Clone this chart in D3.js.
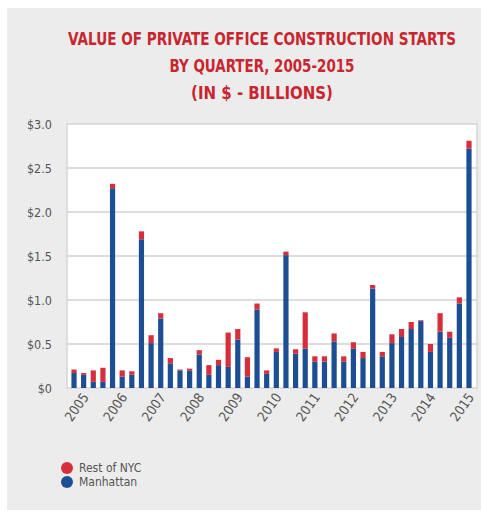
<!DOCTYPE html>
<html>
<head>
<meta charset="utf-8">
<script src="https://cdn.jsdelivr.net/npm/d3@7"></script>
<style>
  body { margin: 0; background: #fff; }
  svg text { font-family: "DejaVu Sans Condensed", "Roboto", sans-serif; }
</style>
</head>
<body>
<div id="chart"></div>
<script>
// Data: quarterly values, 2005 Q1 - 2015 Q2, $ billions
const quarters = d3.range(42).map(i => `${2005 + Math.floor(i / 4)} Q${(i % 4) + 1}`);
const manhattan = [0.17, 0.15, 0.07, 0.07, 2.27, 0.13, 0.15, 1.69, 0.51, 0.79,
                   0.28, 0.20, 0.20, 0.38, 0.15, 0.26, 0.24, 0.55, 0.13, 0.89,
                   0.16, 0.41, 1.51, 0.39, 0.45, 0.30, 0.30, 0.53, 0.30, 0.45,
                   0.34, 1.13, 0.36, 0.51, 0.58, 0.67, 0.76, 0.41, 0.64, 0.57,
                   0.96, 2.72];
const restOfNYC = [0.04, 0.02, 0.13, 0.16, 0.05, 0.07, 0.04, 0.09, 0.09, 0.06,
                   0.06, 0.01, 0.02, 0.05, 0.11, 0.06, 0.39, 0.12, 0.22, 0.07,
                   0.04, 0.04, 0.04, 0.05, 0.41, 0.06, 0.06, 0.09, 0.06, 0.07,
                   0.07, 0.04, 0.05, 0.10, 0.09, 0.08, 0.01, 0.09, 0.21, 0.07,
                   0.07, 0.09];
const yearLabels = ["2005", "2006", "2007", "2008", "2009", "2010", "2011", "2012", "2013", "2014", "2015"];
const yTicks = [0, 0.5, 1.0, 1.5, 2.0, 2.5, 3.0];
const seriesNames = ["Rest of NYC", "Manhattan"];
const titleLines = ["VALUE OF PRIVATE OFFICE CONSTRUCTION STARTS", "BY QUARTER, 2005-2015", "(IN $ - BILLIONS)"];

const width = 483, height = 514;
const colors = { "Manhattan": "#1d4e93", "Rest of NYC": "#d62f3b" };

const svg = d3.select("#chart").append("svg")
    .attr("width", width)
    .attr("height", height);

// gray panel
svg.append("rect")
    .attr("x", 7).attr("y", 8)
    .attr("width", width - 9).attr("height", 502)
    .attr("fill", "#ececec");

// Title - condensed by squeezing each line to the reference width
const titleWidths = [388, 185, 142];
svg.selectAll(".title")
    .data(titleLines)
    .enter().append("g")
    .attr("class", "title")
    .append("text")
    .attr("text-anchor", "middle")
    .attr("font-size", 18)
    .attr("font-weight", "bold")
    .attr("fill", "#c8262f")
    .text(d => d)
    .each(function(d, i) {
        const w = this.getComputedTextLength();
        d3.select(this.parentNode)
            .attr("transform", `translate(262,${45 + i * 27}) scale(${titleWidths[i] / w},1)`);
    });

// Plot area
const plot = { left: 67, right: 477, top: 124, bottom: 388 };

const x = d3.scaleBand()
    .domain(quarters)
    .range([69.2, 473.8])
    .paddingInner(0.46)
    .paddingOuter(0.23);

const y = d3.scaleLinear()
    .domain([0, 3])
    .range([plot.bottom, plot.top]);

svg.append("rect")
    .attr("x", plot.left).attr("y", plot.top)
    .attr("width", plot.right - plot.left).attr("height", plot.bottom - plot.top)
    .attr("fill", "#fff")
    .attr("stroke", "#d6d6d6")
    .attr("stroke-width", 1.5);

// gridlines
svg.append("g")
    .selectAll("line")
    .data(yTicks.filter(t => t > 0 && t < 3))
    .enter().append("line")
    .attr("x1", plot.left).attr("x2", plot.right)
    .attr("y1", d => y(d)).attr("y2", d => y(d))
    .attr("stroke", "#d2d2d2")
    .attr("stroke-width", 1.5);

// Y axis labels
const yAxis = svg.append("g")
    .attr("transform", `translate(${plot.left},0)`)
    .call(d3.axisLeft(y).tickValues(yTicks).tickSize(0).tickPadding(15)
        .tickFormat(d => d === 0 ? "$0" : "$" + d.toFixed(1)));
yAxis.select(".domain").remove();
yAxis.selectAll("text")
    .attr("font-size", 12.5)
    .attr("fill", "#555")
    .style("font-family", "'DejaVu Sans Condensed', sans-serif");

// Stacked bars
const rows = quarters.map((q, i) => ({ quarter: q, "Manhattan": manhattan[i], "Rest of NYC": restOfNYC[i] }));
const stack = d3.stack().keys(["Manhattan", "Rest of NYC"]);
const layers = stack(rows);

svg.append("g")
    .selectAll("g")
    .data(layers)
    .enter().append("g")
    .attr("fill", d => colors[d.key])
    .selectAll("rect")
    .data(d => d)
    .enter().append("rect")
    .attr("x", d => x(d.data.quarter))
    .attr("y", d => y(d[1]))
    .attr("width", x.bandwidth())
    .attr("height", d => y(d[0]) - y(d[1]));

// X axis: year labels on first quarter of each year
const xAxis = svg.append("g")
    .attr("transform", `translate(0,${plot.bottom})`)
    .call(d3.axisBottom(x)
        .tickValues(yearLabels.map(yr => yr + " Q1"))
        .tickSize(0)
        .tickFormat(d => d.slice(0, 4)));
xAxis.select(".domain").remove();
xAxis.selectAll("text")
    .attr("font-size", 13.5)
    .attr("fill", "#555")
    .attr("text-anchor", "end")
    .attr("dx", "0.1em")
    .attr("dy", "1.1em")
    .attr("transform", "rotate(-55)")
    .style("font-family", "'DejaVu Sans Condensed', sans-serif");

// Legend
const legend = svg.append("g")
    .selectAll("g")
    .data(seriesNames)
    .enter().append("g")
    .attr("transform", (d, i) => `translate(67,${468 + i * 14})`);

legend.append("circle")
    .attr("r", 6)
    .attr("fill", d => colors[d]);

legend.append("text")
    .attr("x", 12)
    .attr("dy", "0.35em")
    .attr("font-size", 12)
    .attr("fill", "#555")
    .text(d => d);
</script>
</body>
</html>
